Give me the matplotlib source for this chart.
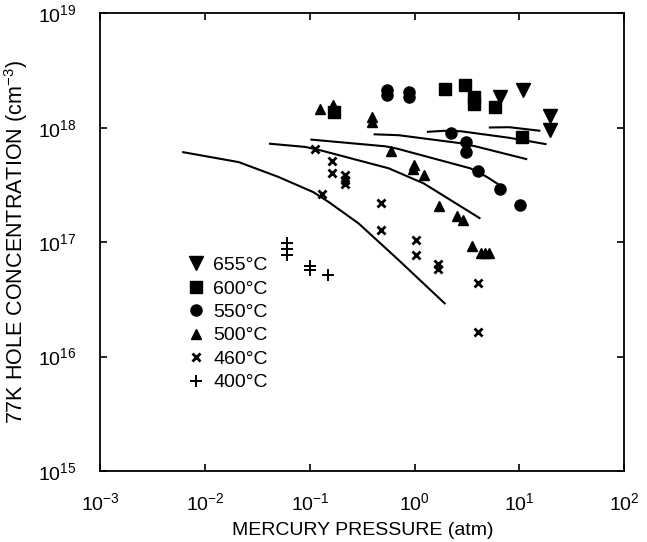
import matplotlib
matplotlib.use("Agg")
import matplotlib.pyplot as plt

plt.rcParams['font.family'] = ['Liberation Sans', 'DejaVu Sans']
plt.rcParams['mathtext.default'] = 'regular'

# ---- measured points ----
x655 = [10.8, 6.58, 19.7, 19.5]
y655 = [2.13e18, 1.86e18, 1.28e18, 9.5e17]

x600 = [0.171, 1.95, 3.05, 3.70, 3.70, 5.86, 10.6]
y600 = [1.37e18, 2.20e18, 2.36e18, 1.86e18, 1.63e18, 1.52e18, 8.3e17]

x550 = [0.541, 0.541, 0.891, 0.891, 2.24, 3.10, 3.10, 3.99, 6.58, 10.2]
y550 = [2.13e18, 1.92e18, 2.04e18, 1.86e18, 9.0e17, 7.5e17, 6.1e17, 4.2e17, 2.95e17, 2.12e17]

x500 = [0.125, 0.167, 0.392, 0.392, 0.593, 0.962, 0.98, 1.23, 1.71, 2.55, 2.93, 3.50, 4.27, 4.68, 5.13]
y500 = [1.47e18, 1.57e18, 1.24e18, 1.12e18, 6.3e17, 4.4e17, 4.7e17, 3.9e17, 2.08e17, 1.70e17, 1.58e17,
        9.2e16, 8.1e16, 8.1e16, 8.1e16]

x460 = [0.112, 0.164, 0.164, 0.215, 0.215, 0.215, 0.130, 0.482, 0.482, 1.02, 1.02, 1.67, 1.67, 3.99, 3.99]
y460 = [6.6e17, 5.1e17, 4.0e17, 3.9e17, 3.5e17, 3.2e17, 2.63e17, 2.19e17, 1.28e17, 1.04e17, 7.7e16,
        6.4e16, 5.8e16, 4.4e16, 1.63e16]

x400 = [0.0604, 0.0604, 0.0604, 0.101, 0.101, 0.150]
y400 = [9.9e16, 8.8e16, 7.8e16, 6.2e16, 5.7e16, 5.2e16]

# ---- calculated curves ----
c1x = [0.00603, 0.0209, 0.0502, 0.108, 0.151, 0.292, 0.702, 1.97]
c1y = [6.15e17, 5.02e17, 3.72e17, 2.74e17, 2.25e17, 1.46e17, 7.0e16, 2.88e16]
c2x = [0.0406, 0.0908, 0.130, 0.566, 1.22, 4.25]
c2y = [7.28e17, 6.81e17, 6.32e17, 4.43e17, 3.27e17, 1.61e17]
c3x = [0.101, 0.525, 0.681, 3.40, 4.91, 6.47]
c3y = [7.91e17, 6.90e17, 6.58e17, 4.43e17, 3.72e17, 3.16e17]
c4x = [0.406, 0.702, 2.64, 3.81, 11.9]
c4y = [8.79e17, 8.63e17, 7.38e17, 6.90e17, 5.31e17]
c5x = [1.31, 1.89, 2.74, 7.78, 12.5, 18.2]
c5y = [9.23e17, 9.42e17, 9.35e17, 8.22e17, 7.64e17, 7.19e17]
c6x = [5.11, 7.98, 15.9]
c6y = [1.007e18, 1.014e18, 9.42e17]

labels = ['655°C', '600°C', '550°C', '500°C', '460°C', '400°C']
xticks = [1e-3, 1e-2, 1e-1, 1e0, 1e1, 1e2]
xticklabels = [r'$10^{-3}$', r'$10^{-2}$', r'$10^{-1}$', r'$10^{0}$', r'$10^{1}$', r'$10^{2}$']
yticks = [1e15, 1e16, 1e17, 1e18, 1e19]
yticklabels = [r'$10^{15}$', r'$10^{16}$', r'$10^{17}$', r'$10^{18}$', r'$10^{19}$']

fig = plt.figure(figsize=(6.47, 5.42), dpi=100)
ax = fig.add_axes([0.1553, 0.131, 0.8092, 0.8441])
ax.set_xscale('log')
ax.set_yscale('log')
ax.set_xlim(1e-3, 1e2)
ax.set_ylim(1e15, 1e19)

for cx, cy in [(c1x, c1y), (c2x, c2y), (c3x, c3y), (c4x, c4y), (c5x, c5y), (c6x, c6y)]:
    ax.plot(cx, cy, color='black', lw=1.5, solid_capstyle='butt', solid_joinstyle='round')

k = dict(linestyle='none', color='black')
ax.plot(x655, y655, marker='v', ms=10, label=labels[0], **k)
ax.plot(x600, y600, marker='s', ms=8, label=labels[1], **k)
ax.plot(x550, y550, marker='o', ms=8, label=labels[2], **k)
ax.plot(x500, y500, marker='^', ms=7, label=labels[3], **k)
ax.plot(x460, y460, marker='x', ms=6, mew=2, label=labels[4], **k)
ax.plot(x400, y400, marker='+', ms=9, mew=1.4, label=labels[5], **k)

ax.set_xticks(xticks)
ax.set_xticklabels(xticklabels)
ax.set_yticks(yticks)
ax.set_yticklabels(yticklabels)
ax.minorticks_off()
ax.tick_params(which='major', direction='in', length=5, width=1.2, top=True, right=True,
               labelsize=14)
ax.tick_params(axis='x', pad=15)
ax.tick_params(axis='y', pad=17)
for s in ax.spines.values():
    s.set_linewidth(1.3)

ax.set_xlabel('MERCURY PRESSURE (atm)', fontsize=14, labelpad=6)
ax.set_ylabel('77K HOLE CONCENTRATION (cm$^{-3}$)', fontsize=15.5, labelpad=6)

leg = ax.legend(loc='upper left', bbox_to_anchor=(0.145, 0.49), frameon=False, fontsize=14,
                handlelength=1.0, handletextpad=0.4, labelspacing=0.3, borderpad=0)

fig.savefig('out.png', dpi=100)
